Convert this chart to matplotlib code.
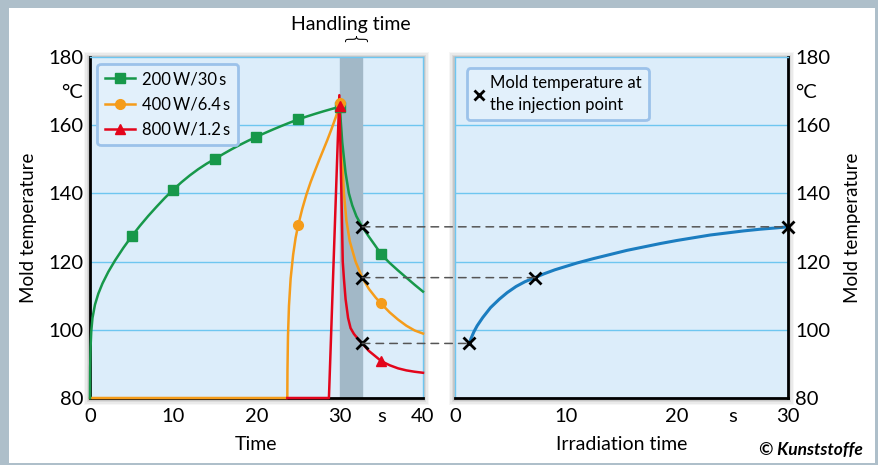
import numpy as np
import matplotlib
matplotlib.use("Agg")
import matplotlib.pyplot as plt
from matplotlib.patches import Rectangle, ConnectionPatch
from matplotlib.lines import Line2D

plt.rcParams['font.family'] = ['Lato', 'DejaVu Sans']

# data
green_t = [0, 0.02, 0.07, 0.15, 0.3, 0.6, 1, 1.5, 2.2, 3, 4, 5, 6, 7, 8, 9, 10,
           11, 12, 13, 14, 15, 16, 17, 18, 19, 20, 21, 22, 23, 24, 25, 26, 27, 28, 29, 30,
           30.3, 30.7, 31.1, 31.5, 32, 32.7, 33.5, 34.2, 35, 36, 37, 38, 39, 40]
green_v = [80, 89, 95, 99.5, 103.5, 107.4, 110.6, 113.6, 117, 120.3, 124, 127.4,
           130.5, 133.4, 136.1, 138.7, 141.1,
           143.3, 145.3, 147.1, 148.7, 150.1, 151.55, 152.93, 154.23, 155.45, 156.6,
           157.7, 158.76, 159.78, 160.76, 161.7, 162.52, 163.3, 164.04, 164.74, 165.4,
           155, 146, 140, 136.5, 133.3, 130.2, 127.3, 124.9, 122.1, 119.6, 117.4, 115.3, 113.2, 111.2]
orange_t = [0, 23.7, 23.72, 23.78, 23.9, 24.1, 24.4, 24.7, 25, 25.5, 26, 26.5, 27, 27.5, 28, 28.5, 29, 29.5, 30,
            30.2, 30.5, 30.8, 31.2, 31.9, 32.7, 33.5, 34.3, 35, 36, 37, 38, 39, 40]
orange_v = [80, 80, 88, 98, 107, 115, 122, 127, 130.6, 135.5, 139.7, 143.3, 146.5, 149.6, 152.6, 155.6, 158.8,
            162.2, 166,
            155, 140, 132, 126, 120, 115.3, 112, 109.5, 107.6, 105.1, 103, 101.2, 99.8, 98.9]
red_t = [23.7, 28.7, 29.95, 30.2, 30.36, 30.5, 30.7, 31, 31.3, 31.7, 32.2, 32.7, 33.5, 34.3, 35, 36, 37, 38, 39, 40]
red_v = [80, 80, 168.8, 140, 120, 115, 109, 103.5, 100.5, 98.8, 97.3, 96, 93.8, 92.2, 90.8, 89.6, 88.7, 88.1,
         87.7, 87.4]

green_mk_t = [5, 10, 15, 20, 25, 30, 35]
green_mk_v = [127.4, 141.1, 150.1, 156.6, 161.7, 165.2, 122.1]
orange_mk_t = [25, 30, 35]
orange_mk_v = [130.6, 166.5, 107.8]
red_mk_t = [30, 35]
red_mk_v = [165.5, 90.8]

handling = (30, 32.7)
inj_left_t = 32.7
inj_v = [96, 115.3, 130.2]
irr_t = [1.3, 7.2, 30]

irr_curve_t = [1.3, 1.45, 1.7, 2, 2.5, 3.2, 4, 4.7, 5.5, 6.3, 7.2, 8, 9, 10, 11, 12.5, 14, 15.5, 17, 18.5, 20,
               21.5, 23, 24.5, 26, 27.5, 29, 30]
irr_curve_v = [96, 97.5, 99.4, 101.2, 103.6, 106.5, 109, 110.9, 112.7, 114.1, 115.3, 116.4, 117.6, 118.6, 119.6,
               120.9, 122.1, 123.3, 124.3, 125.3, 126.2, 127, 127.8, 128.4, 129, 129.5, 129.9, 130.2]

GREEN = '#17984a'
ORANGE = '#f59c1a'
RED = '#e3051b'
BLUE = '#1b7dc0'
BG = '#dcedfa'
GRID = '#6ec6f0'
EDGE = '#9cc2ea'
TS = '\u2009'

fig = plt.figure(figsize=(8.79, 4.65), dpi=100)
fig.patch.set_facecolor('#aebfca')
fig.add_artist(Rectangle((9 / 879, 2 / 465), 866 / 879, 455 / 465, transform=fig.transFigure,
                         facecolor='white', edgecolor='none', zorder=-10))

axL = fig.add_axes([90 / 879, 67 / 465, 333 / 879, 341 / 465])
axR = fig.add_axes([455 / 879, 67 / 465, 333 / 879, 341 / 465])

# soft shadow behind the panels
for ax in (axL, axR):
    b = ax.get_position()
    for i, a in enumerate([0.05, 0.07, 0.1, 0.14]):
        pad = (4 - i) * 1.6
        fig.add_artist(Rectangle((b.x0 - pad / 879, b.y0 - (pad + 1) / 465),
                                 b.width + 2 * pad / 879, b.height + 2 * pad / 465,
                                 transform=fig.transFigure, facecolor='#555555',
                                 alpha=a, edgecolor='none', zorder=-5))

for ax in (axL, axR):
    ax.set_facecolor(BG)
    ax.set_ylim(80, 180)
    for y in [100, 120, 140, 160]:
        ax.axhline(y, color=GRID, lw=1, zorder=1)
    ax.tick_params(axis='y', which='major', length=0, labelsize=14.5, pad=5)
    ax.tick_params(axis='x', which='major', length=0, labelsize=14.5, pad=7)
    ax.tick_params(axis='x', which='minor', direction='in', length=5, color=GRID, width=1.2)

# left panel
axL.set_xlim(0, 40)
axL.axvspan(*handling, color='#a2b8c7', zorder=1.5)
axL.plot(orange_t, orange_v, color=ORANGE, lw=1.8, zorder=3, clip_on=False)
axL.plot(red_t, red_v, color=RED, lw=1.8, zorder=3.5, clip_on=False)
axL.plot(green_t, green_v, color=GREEN, lw=1.8, zorder=3, clip_on=False)
axL.plot(green_mk_t, green_mk_v, ls='none', marker='s', ms=7, color=GREEN, zorder=4)
axL.plot(orange_mk_t, orange_mk_v, ls='none', marker='o', ms=7, color=ORANGE, zorder=4)
axL.plot(red_mk_t, red_mk_v, ls='none', marker='^', ms=7, color=RED, zorder=4.5)
axL.plot([inj_left_t] * 3, inj_v, ls='none', marker='x', ms=8, mew=2, color='black', zorder=6)

axL.set_xticks([0, 10, 20, 30, 35, 40], ['0', '10', '20', '30', 's', '40'])
axL.set_xticks([10, 20], minor=True)
axL.set_yticks([80, 100, 120, 140, 160, 170, 180], ['80', '100', '120', '140', '160', '°C', '180'])
for s in ['top', 'right']:
    axL.spines[s].set_color(GRID)
    axL.spines[s].set_linewidth(1)
for s in ['left', 'bottom']:
    axL.spines[s].set_color('black')
    axL.spines[s].set_linewidth(2)
axL.set_xlabel('Time', fontsize=14, labelpad=8)
axL.set_ylabel('Mold temperature', fontsize=13.5, labelpad=8)

handles = [Line2D([], [], color=GREEN, marker='s', ms=7, lw=1.8),
           Line2D([], [], color=ORANGE, marker='o', ms=7, lw=1.8),
           Line2D([], [], color=RED, marker='^', ms=7, lw=1.8)]
labels = ['200' + TS + 'W/30' + TS + 's', '400' + TS + 'W/6.4' + TS + 's', '800' + TS + 'W/1.2' + TS + 's']
legL = axL.legend(handles, labels, loc='upper left',
                  fontsize=12, frameon=True, fancybox=True, handlelength=1.8, handletextpad=0.45,
                  borderpad=0.45, labelspacing=0.55, borderaxespad=0, bbox_to_anchor=(0.022, 0.98))
legL.get_frame().set_edgecolor(EDGE)
legL.get_frame().set_linewidth(2)
legL.get_frame().set_facecolor('#e2f0fb')
legL.get_frame().set_alpha(1)
legL.set_zorder(10)

axL.text(np.mean(handling), 184.2, '{', rotation=-90, ha='center', va='center', fontsize=17,
         family='DejaVu Sans', fontweight='light', clip_on=False)
axL.text(np.mean(handling), 189.5, 'Handling time', ha='center', va='center', fontsize=14, clip_on=False)

# right panel
axR.set_xlim(0, 30)
axR.plot(irr_curve_t, irr_curve_v, color=BLUE, lw=2.2, zorder=3)
axR.plot(irr_t, inj_v, ls='none', marker='x', ms=8, mew=2, color='black', zorder=6, clip_on=False)
axR.set_xticks([0, 10, 20, 25, 30], ['0', '10', '20', 's', '30'])
axR.set_xticks([10, 20], minor=True)
axR.yaxis.tick_right()
axR.yaxis.set_label_position('right')
axR.set_yticks([80, 100, 120, 140, 160, 170, 180], ['80', '100', '120', '140', '160', '°C', '180'])
for s in ['top', 'left']:
    axR.spines[s].set_color(GRID)
    axR.spines[s].set_linewidth(1)
for s in ['right', 'bottom']:
    axR.spines[s].set_color('black')
    axR.spines[s].set_linewidth(2)
axR.set_xlabel('Irradiation time', fontsize=14, labelpad=8)
axR.set_ylabel('Mold temperature', fontsize=13.5, labelpad=10, rotation=90)

hR = [Line2D([], [], color='black', marker='x', ms=7, mew=2, ls='none')]
legR = axR.legend(hR, ['Mold temperature at\nthe injection point'], loc='upper left', fontsize=12,
                  frameon=True, fancybox=True, handlelength=0.6, handletextpad=0.4, borderpad=0.4,
                  borderaxespad=0, bbox_to_anchor=(0.036, 0.967))
for t in legR.get_texts():
    t.set_linespacing(1.5)
legR.get_frame().set_edgecolor(EDGE)
legR.get_frame().set_linewidth(2)
legR.get_frame().set_facecolor('#e2f0fb')
legR.get_frame().set_alpha(1)
legR.set_zorder(10)

# dashed connectors
for v, tr in zip(inj_v, irr_t):
    con = ConnectionPatch(xyA=(inj_left_t, v), coordsA=axL.transData,
                          xyB=(tr, v), coordsB=axR.transData,
                          color='#555555', lw=1.1, ls=(0, (5, 4)), zorder=5)
    fig.add_artist(con)

fig.text(863 / 879, 1 - 450 / 465, '© Kunststoffe', ha='right', va='center', fontsize=12.5,
         fontweight='bold', fontstyle='italic')

fig.savefig('out.png', dpi=100)
